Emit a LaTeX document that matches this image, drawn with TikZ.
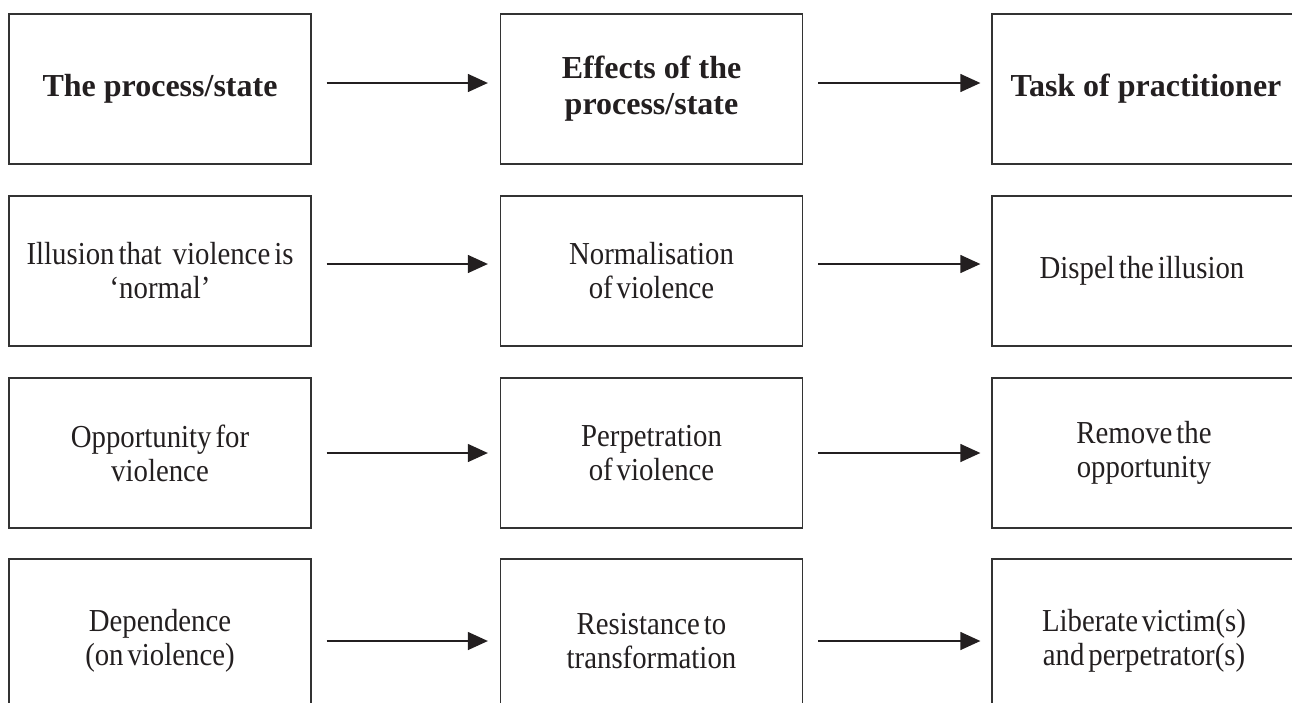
\documentclass[tikz,border=0pt]{standalone}
\usepackage{fontspec}
\setmainfont{Liberation Serif}
\newfontfamily\condfont{Liberation Serif}[FakeStretch=0.9,WordSpace=0.55]
\usetikzlibrary{arrows.meta}
\definecolor{edge}{HTML}{333333}
\definecolor{ink}{HTML}{231F20}
\tikzset{
  box/.style={draw=edge, line width=1.3pt, minimum width=302pt, minimum height=150pt,
    inner sep=0pt, align=center, text=ink},
  widebox/.style={minimum width=316pt},
  lowbox/.style={minimum height=164pt},
  headbox/.style={box, font=\fontsize{32}{36}\selectfont\bfseries},
  bodybox/.style={box, font=\condfont\fontsize{32}{34}\selectfont},
  arr/.style={draw=ink, line width=1.3pt, -{Triangle[length=20pt,width=18pt]}}
}
\begin{document}
\begin{tikzpicture}[x=1pt,y=-1pt]
\useasboundingbox (0,0) rectangle (1292,702);
% row 1
\node[headbox] (a1) at (160,89) {The process/state};
\node[headbox] (b1) at (651.5,89) {Effects of the\\process/state};
\node[headbox,widebox] (c1) at (1150,89) {Task of practitioner\hspace*{8pt}};
% row 2
\node[bodybox] (a2) at (160,271) {Illusion that\hspace{11pt}violence is\\‘normal’};
\node[bodybox] (b2) at (651.5,271) {Normalisation\\of violence};
\node[bodybox,widebox] (c2) at (1150,271) {Dispel the illusion\hspace*{16pt}};
% row 3
\node[bodybox] (a3) at (160,453) {Opportunity for\\violence};
\node[bodybox] (b3) at (651.5,453) {Perpetration\\of violence};
\node[bodybox,widebox] (c3) at (1150,453) {Remove the\hspace*{12pt}\\opportunity\hspace*{12pt}};
% row 4
\node[bodybox,lowbox] (a4) at (160,641) {Dependence\\(on violence)};
\node[bodybox,lowbox] (b4) at (651.5,641) {Resistance to\\transformation};
\node[bodybox,lowbox,widebox] (c4) at (1150,641) {Liberate victim(s)\hspace*{12pt}\\and perpetrator(s)\hspace*{12pt}};
% arrows
\draw[arr] ([xshift=15pt,yshift=6pt]a1.east) -- ([xshift=-12pt,yshift=6pt]b1.west);
\draw[arr] ([xshift=15pt,yshift=6pt]b1.east) -- ([xshift=-11pt,yshift=6pt]c1.west);
\draw[arr] ([xshift=15pt,yshift=7pt]a2.east) -- ([xshift=-12pt,yshift=7pt]b2.west);
\draw[arr] ([xshift=15pt,yshift=7pt]b2.east) -- ([xshift=-11pt,yshift=7pt]c2.west);
\draw[arr] ([xshift=15pt]a3.east) -- ([xshift=-12pt]b3.west);
\draw[arr] ([xshift=15pt]b3.east) -- ([xshift=-11pt]c3.west);
\draw[arr] ([xshift=15pt]a4.east) -- ([xshift=-12pt]b4.west);
\draw[arr] ([xshift=15pt]b4.east) -- ([xshift=-11pt]c4.west);
\end{tikzpicture}
\end{document}
